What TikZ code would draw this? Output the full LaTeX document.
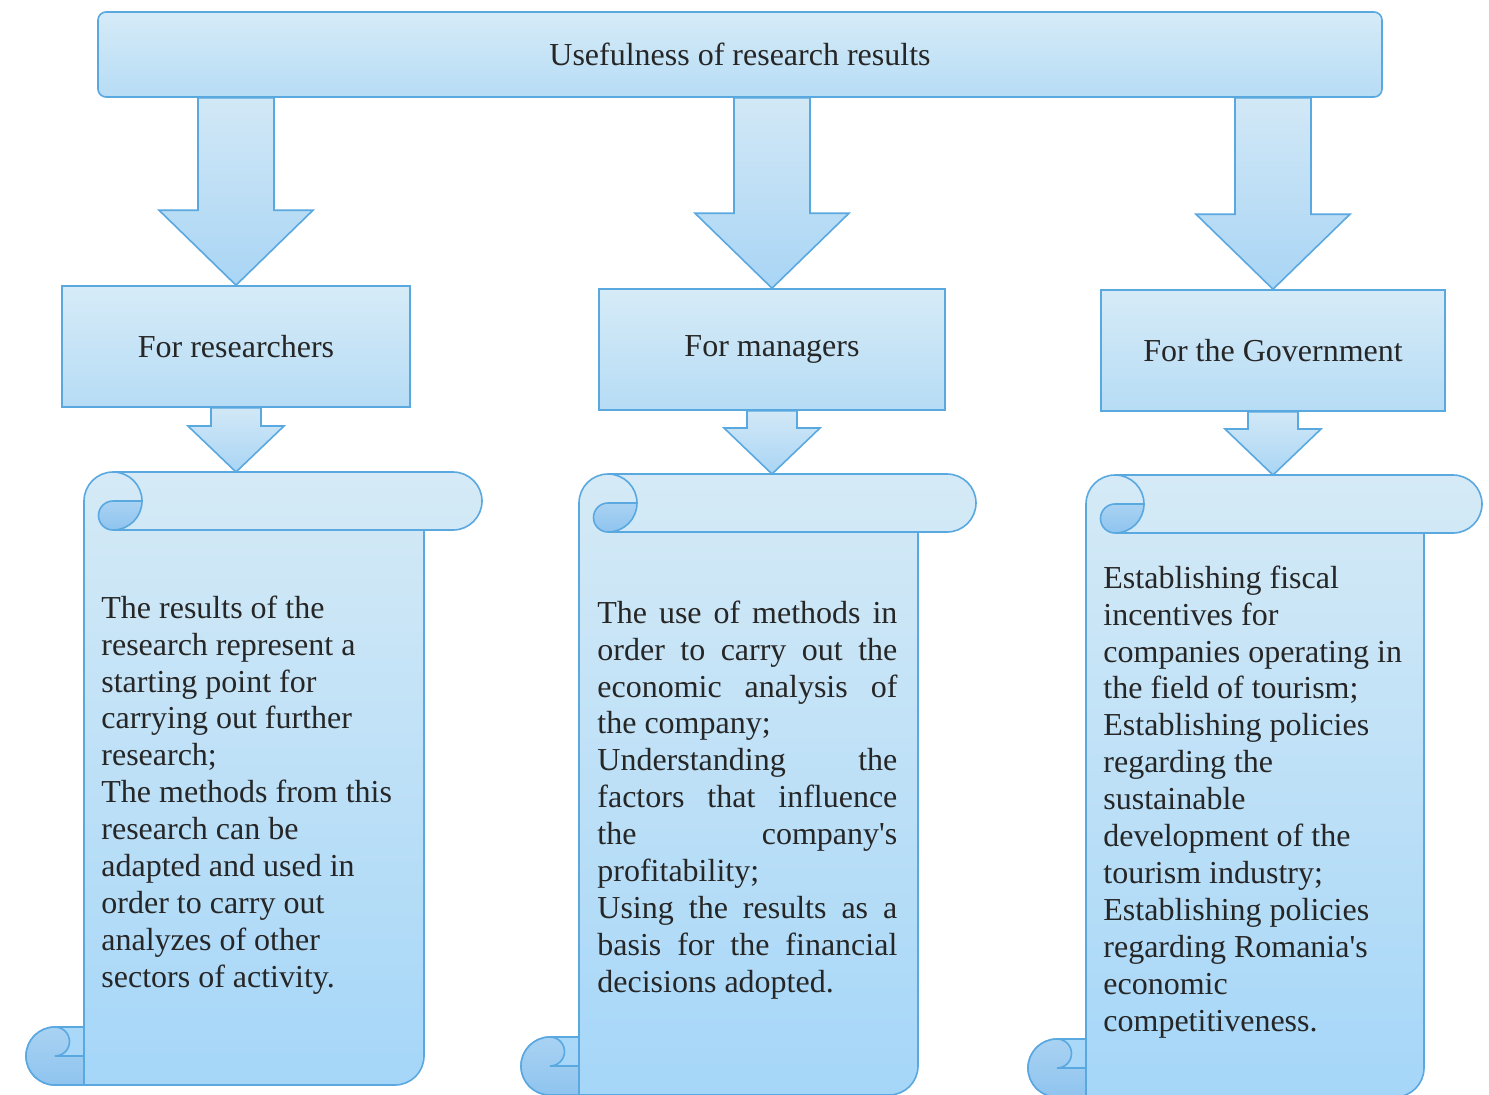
\documentclass[tikz,border=0pt]{standalone}
\usepackage{fontspec}
\setmainfont{Liberation Serif}
\usetikzlibrary{calc}

\definecolor{edgeblue}{HTML}{5AA8E0}
\definecolor{boxtop}{HTML}{D6EBF7}
\definecolor{boxbot}{HTML}{B6DCF5}
\definecolor{arrtop}{HTML}{D2E8F6}
\definecolor{arrbot}{HTML}{A9D5F5}
\definecolor{sheettop}{HTML}{D5EAF6}
\definecolor{sheetbot}{HTML}{A5D6F8}
\definecolor{curltop}{HTML}{A9D2F2}
\definecolor{curlbot}{HTML}{8FC4EF}
\definecolor{ink}{HTML}{262626}

\tikzset{
  txt/.style={font=\fontsize{16}{18.45}\selectfont, text=ink},
  headbox/.style={txt, draw=edgeblue, line width=0.8pt, rounded corners=4pt,
    top color=boxtop, bottom color=boxbot, inner sep=0pt},
  catbox/.style={txt, draw=edgeblue, line width=0.8pt,
    top color=boxtop, bottom color=boxbot, inner sep=0pt, minimum height=60.5pt},
  arrowbody/.style={draw=edgeblue, line width=0.8pt, top color=arrtop, bottom color=arrbot},
  sheet/.style={draw=edgeblue, line width=0.8pt, top color=sheettop, bottom color=sheetbot},
  curlpart/.style={draw=edgeblue, line width=0.8pt, top color=curltop, bottom color=curlbot},
  edgeline/.style={draw=edgeblue, line width=0.8pt},
  sheettext/.style={txt, anchor=north west, inner sep=0pt, align=left}
}

% block arrow from the start point #1 down to the tip #2;
% #3 half shaft width, #4 half head width, #5 head length (canvas units)
\newcommand\fatarrow[5]{%
  \draw[arrowbody] let \p1=#1, \p2=#2 in
    (\x2-#3,\y1) -- (\x2-#3,\y2+#5) -- (\x2-#4,\y2+#5) -- (\x2,\y2)
    -- (\x2+#4,\y2+#5) -- (\x2+#3,\y2+#5) -- (\x2+#3,\y1) -- cycle;}

% vertical scroll: #1 left edge of the sheet, #2 right end of the top roll,
% #3 top, #4 bottom; \rr is the roll radius
\def\rr{29}
\newcommand\scrollshape[4]{%
  \pgfmathsetmacro\sL{#1}\pgfmathsetmacro\sR{#2}%
  \pgfmathsetmacro\sT{#3}\pgfmathsetmacro\sB{#4}%
  \draw[sheet] (\sL,{\sB-\rr}) -- (\sL,{\sT+\rr})
    arc[start angle=180,end angle=270,radius=\rr]
    -- ({\sR-\rr},\sT) arc[start angle=270,end angle=450,radius=\rr]
    -- ({\sR-2*\rr},{\sT+2*\rr}) -- ({\sR-2*\rr},{\sB-\rr})
    arc[start angle=0,end angle=90,radius=\rr]
    -- ({\sL-\rr},\sB) arc[start angle=90,end angle=270,radius=\rr]
    -- (\sL,{\sB-2*\rr}) -- cycle;
  % top roll
  \draw[edgeline] ({\sL+\rr},{\sT+2*\rr}) -- ({\sR-2*\rr},{\sT+2*\rr});
  \draw[edgeline] ({\sL+\rr},\sT) arc[start angle=270,end angle=360,radius=\rr];
  \draw[curlpart] ({\sL+\rr},{\sT+\rr}) -- ({\sL+2*\rr},{\sT+\rr})
    arc[start angle=0,end angle=90,radius=\rr]
    arc[start angle=90,end angle=270,radius=\rr/2] -- cycle;
  % bottom roll
  \draw[curlpart] ({\sL-\rr},{\sB-2*\rr})
    arc[start angle=270,end angle=90,radius=\rr]
    -- (\sL,\sB) -- (\sL,{\sB-\rr}) -- ({\sL-\rr},{\sB-\rr})
    arc[start angle=90,end angle=-90,radius=\rr/2] -- cycle;
}

% the font's own interword spacing (stretchable) instead of a fixed one
\newcommand\fontspaces{\spaceskip=0pt\xspaceskip=0pt\relax}
% one justified line of the middle column
\newcommand\jline[1]{\makebox[150pt][s]{#1}}

\begin{document}
\begin{tikzpicture}[x=0.5pt,y=-0.5pt]
\useasboundingbox (0,0) rectangle (1489,1094);

% title bar
\node[headbox, minimum width=642pt, minimum height=42.5pt] (top) at (740,54.5)
  {Usefulness of research results};

% the three target groups
\node[catbox, minimum width=174pt] (res) at (236,346.5) {For researchers};
\node[catbox, minimum width=173pt] (man) at (772,349.5) {For managers};
\node[catbox, minimum width=172pt] (gov) at (1273,350.5) {For the Government};

% scrolls
\scrollshape{84}{482}{472}{1085}
\scrollshape{579}{976}{474}{1095}
\scrollshape{1086}{1482}{475}{1097}
\coordinate (s1) at (237,472);
\coordinate (s2) at (771,474);
\coordinate (s3) at (1273,475);

% arrows from the title bar
\fatarrow{(top.south -| res.north)}{(res.north)}{19pt}{38.5pt}{37.5pt}
\fatarrow{(top.south -| man.north)}{(man.north)}{19pt}{38.5pt}{37.5pt}
\fatarrow{(top.south -| gov.north)}{(gov.north)}{19pt}{38.5pt}{37.5pt}

% arrows into the scrolls
\fatarrow{(res.south)}{(res.south |- s1)}{12.5pt}{24pt}{23pt}
\fatarrow{(man.south)}{(man.south |- s2)}{12.5pt}{24pt}{23pt}
\fatarrow{(gov.south)}{(gov.south |- s3)}{12.5pt}{24pt}{23pt}

% scroll texts
\node[sheettext, text width=165pt] (t1) at (101,592)
  {\fontspaces\strut The results of the\\research represent a\\starting point for\\carrying out further\\research;\\The methods from this\\research can be\\adapted and used in\\order to carry out\\analyzes of other\\sectors of activity.};

\node[sheettext, text width=152pt] (t2) at (597,597)
  {\fontspaces\strut\jline{The use of methods in}\\
   \jline{order to carry out the}\\
   \jline{economic analysis of}\\
   the company;\\
   \jline{Understanding the}\\
   \jline{factors that influence}\\
   \jline{the company\textquotesingle s}\\
   profitability;\\
   \jline{Using the results as a}\\
   \jline{basis for the financial}\\
   decisions adopted.};

\node[sheettext, text width=165pt] (t3) at (1103,562)
  {\fontspaces\strut Establishing fiscal\\incentives for\\companies operating in\\the field of tourism;\\Establishing policies\\regarding the\\sustainable\\development of the\\tourism industry;\\Establishing policies\\regarding Romania\textquotesingle s\\economic\\competitiveness.};
\end{tikzpicture}
\end{document}
